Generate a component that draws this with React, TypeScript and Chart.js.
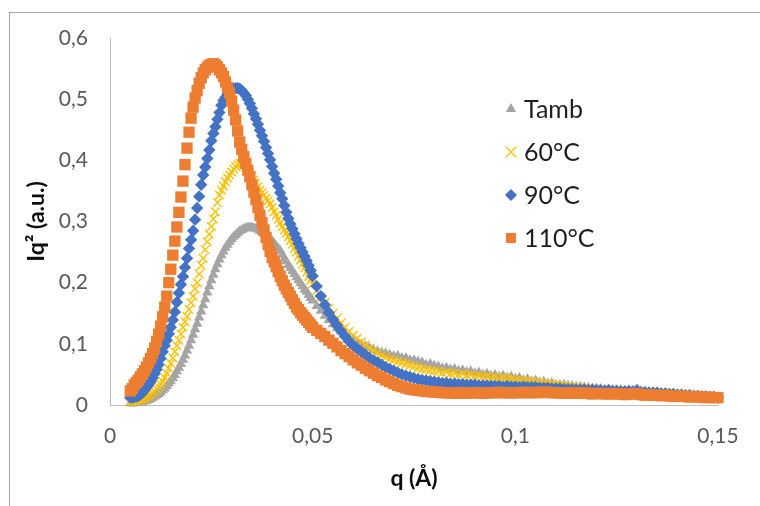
import React, { useEffect, useRef } from 'react';
import { Chart, registerables } from 'chart.js';

Chart.register(...registerables);

// q (Å) sampling positions
const qValues = [
  0.005, 0.0055, 0.006, 0.0065, 0.007, 0.0075, 0.008, 0.0085, 0.009, 0.0095,
  0.010, 0.0105, 0.011, 0.0115, 0.012, 0.0125, 0.013, 0.0135, 0.014, 0.0145,
  0.015, 0.0155, 0.016, 0.0165, 0.017, 0.0175, 0.018, 0.0185, 0.019, 0.0195,
  0.020, 0.0205, 0.021, 0.0215, 0.022, 0.0225, 0.023, 0.0235, 0.024, 0.0245,
  0.025, 0.0255, 0.026, 0.0265, 0.027, 0.0275, 0.028, 0.0285, 0.029, 0.0295,
  0.030, 0.0305, 0.031, 0.0315, 0.032, 0.0325, 0.033, 0.0335, 0.034, 0.0345,
  0.035, 0.0355, 0.036, 0.0365, 0.037, 0.0375, 0.038, 0.0385, 0.039, 0.0395,
  0.040, 0.0405, 0.041, 0.0415, 0.042, 0.0425, 0.043, 0.0435, 0.044, 0.0445,
  0.045, 0.0455, 0.046, 0.0465, 0.047, 0.0475, 0.048, 0.0485, 0.049, 0.0495,
  0.050,
  0.051, 0.052, 0.053, 0.054, 0.055, 0.056, 0.057, 0.058, 0.059, 0.060,
  0.061, 0.062, 0.063, 0.064, 0.065, 0.066, 0.067, 0.068, 0.069, 0.070,
  0.071, 0.072, 0.073, 0.074, 0.075, 0.076, 0.077, 0.078, 0.079, 0.080,
  0.081, 0.082, 0.083, 0.084, 0.085, 0.086, 0.087, 0.088, 0.089, 0.090,
  0.091, 0.092, 0.093, 0.094, 0.095, 0.096, 0.097, 0.098, 0.099, 0.100,
  0.101, 0.102, 0.103, 0.104, 0.105, 0.106, 0.107, 0.108, 0.109, 0.110,
  0.111, 0.112, 0.113, 0.114, 0.115, 0.116, 0.117, 0.118, 0.119, 0.120,
  0.121, 0.122, 0.123, 0.124, 0.125, 0.126, 0.127, 0.128, 0.129, 0.130,
  0.131, 0.132, 0.133, 0.134, 0.135, 0.136, 0.137, 0.138, 0.139, 0.140,
  0.141, 0.142, 0.143, 0.144, 0.145, 0.146, 0.147, 0.148, 0.149, 0.150,
];

const tambValues = [
  0.003, 0.003, 0.003, 0.004, 0.004, 0.004, 0.005, 0.006, 0.007, 0.008,
  0.010, 0.012, 0.014, 0.016, 0.018, 0.021, 0.024, 0.027, 0.031, 0.035,
  0.039, 0.044, 0.049, 0.055, 0.061, 0.067, 0.074, 0.081, 0.089, 0.097,
  0.106, 0.115, 0.124, 0.133, 0.143, 0.153, 0.163, 0.173, 0.184, 0.194,
  0.204, 0.213, 0.222, 0.230, 0.238, 0.245, 0.251, 0.257, 0.262, 0.267,
  0.271, 0.275, 0.278, 0.281, 0.284, 0.286, 0.288, 0.289, 0.290, 0.290,
  0.290, 0.289, 0.288, 0.287, 0.285, 0.283, 0.280, 0.277, 0.274, 0.271,
  0.268, 0.264, 0.260, 0.256, 0.252, 0.246, 0.240, 0.235, 0.229, 0.224,
  0.219, 0.214, 0.209, 0.204, 0.199, 0.194, 0.189, 0.185, 0.180, 0.175,
  0.171,
  0.162, 0.154, 0.146, 0.139, 0.132, 0.126, 0.120, 0.115, 0.110, 0.106,
  0.102, 0.099, 0.096, 0.093, 0.090, 0.088, 0.086, 0.084, 0.082, 0.080,
  0.080, 0.077, 0.077, 0.073, 0.073, 0.071, 0.070, 0.066, 0.067, 0.064,
  0.063, 0.060, 0.061, 0.058, 0.059, 0.056, 0.057, 0.054, 0.055, 0.052,
  0.053, 0.050, 0.051, 0.048, 0.049, 0.046, 0.048, 0.045, 0.046, 0.043,
  0.044, 0.041, 0.042, 0.039, 0.040, 0.037, 0.038, 0.035, 0.036, 0.033,
  0.033, 0.033, 0.032, 0.031, 0.030, 0.030, 0.029, 0.028, 0.027, 0.027,
  0.026, 0.025, 0.025, 0.024, 0.024, 0.024, 0.023, 0.023, 0.022, 0.022,
  0.022, 0.021, 0.021, 0.020, 0.020, 0.019, 0.019, 0.018, 0.018, 0.017,
  0.017, 0.016, 0.016, 0.015, 0.015, 0.014, 0.014, 0.013, 0.013, 0.012,
];

const t60Values = [
  0.006, 0.006, 0.007, 0.007, 0.008, 0.009, 0.010, 0.011, 0.013, 0.015,
  0.017, 0.020, 0.023, 0.026, 0.030, 0.034, 0.039, 0.045, 0.052, 0.060,
  0.068, 0.077, 0.087, 0.097, 0.106, 0.116, 0.127, 0.136, 0.145, 0.156,
  0.167, 0.178, 0.190, 0.200, 0.214, 0.228, 0.240, 0.254, 0.267, 0.279,
  0.292, 0.304, 0.316, 0.331, 0.343, 0.351, 0.358, 0.365, 0.371, 0.376,
  0.381, 0.386, 0.390, 0.393, 0.395, 0.395, 0.393, 0.389, 0.384, 0.379,
  0.374, 0.368, 0.363, 0.357, 0.351, 0.347, 0.343, 0.338, 0.334, 0.329,
  0.323, 0.316, 0.310, 0.304, 0.297, 0.292, 0.286, 0.281, 0.275, 0.269,
  0.263, 0.256, 0.250, 0.243, 0.237, 0.230, 0.224, 0.217, 0.210, 0.204,
  0.198,
  0.187, 0.176, 0.167, 0.158, 0.150, 0.142, 0.134, 0.127, 0.120, 0.114,
  0.109, 0.103, 0.098, 0.093, 0.089, 0.085, 0.081, 0.078, 0.075, 0.073,
  0.071, 0.069, 0.067, 0.065, 0.063, 0.061, 0.059, 0.058, 0.056, 0.055,
  0.055, 0.052, 0.054, 0.051, 0.052, 0.049, 0.051, 0.048, 0.050, 0.047,
  0.048, 0.046, 0.047, 0.044, 0.046, 0.043, 0.045, 0.042, 0.043, 0.040,
  0.040, 0.039, 0.039, 0.038, 0.037, 0.036, 0.035, 0.034, 0.033, 0.033,
  0.032, 0.031, 0.030, 0.030, 0.029, 0.028, 0.028, 0.027, 0.026, 0.026,
  0.025, 0.025, 0.024, 0.025, 0.024, 0.024, 0.023, 0.024, 0.023, 0.023,
  0.022, 0.022, 0.021, 0.021, 0.020, 0.020, 0.019, 0.019, 0.018, 0.018,
  0.017, 0.017, 0.016, 0.016, 0.015, 0.015, 0.014, 0.014, 0.013, 0.013,
];

const t90Values = [
  0.012, 0.012, 0.013, 0.014, 0.015, 0.017, 0.020, 0.024, 0.028, 0.033,
  0.038, 0.044, 0.051, 0.058, 0.066, 0.076, 0.087, 0.097, 0.106, 0.116,
  0.127, 0.139, 0.152, 0.168, 0.183, 0.197, 0.210, 0.225, 0.240, 0.256,
  0.270, 0.285, 0.303, 0.322, 0.341, 0.360, 0.376, 0.389, 0.403, 0.417,
  0.432, 0.444, 0.455, 0.467, 0.478, 0.490, 0.498, 0.503, 0.508, 0.512,
  0.515, 0.517, 0.518, 0.518, 0.517, 0.514, 0.510, 0.506, 0.500, 0.493,
  0.485, 0.476, 0.468, 0.459, 0.449, 0.440, 0.431, 0.421, 0.411, 0.401,
  0.390, 0.379, 0.369, 0.358, 0.347, 0.337, 0.326, 0.315, 0.305, 0.296,
  0.288, 0.280, 0.272, 0.264, 0.257, 0.250, 0.243, 0.236, 0.228, 0.220,
  0.211,
  0.194, 0.178, 0.164, 0.151, 0.140, 0.130, 0.121, 0.112, 0.104, 0.097,
  0.092, 0.087, 0.082, 0.077, 0.073, 0.070, 0.066, 0.062, 0.059, 0.056,
  0.053, 0.050, 0.048, 0.046, 0.044, 0.042, 0.041, 0.040, 0.039, 0.038,
  0.037, 0.036, 0.036, 0.035, 0.035, 0.034, 0.034, 0.033, 0.033, 0.033,
  0.032, 0.032, 0.032, 0.031, 0.031, 0.031, 0.030, 0.031, 0.030, 0.030,
  0.029, 0.030, 0.029, 0.029, 0.029, 0.028, 0.028, 0.028, 0.027, 0.027,
  0.027, 0.026, 0.026, 0.026, 0.025, 0.025, 0.025, 0.024, 0.025, 0.024,
  0.024, 0.023, 0.024, 0.023, 0.023, 0.022, 0.022, 0.023, 0.022, 0.024,
  0.021, 0.021, 0.020, 0.020, 0.020, 0.019, 0.019, 0.018, 0.018, 0.017,
  0.017, 0.016, 0.016, 0.015, 0.015, 0.014, 0.014, 0.013, 0.013, 0.012,
];

const t110Values = [
  0.023, 0.027, 0.033, 0.037, 0.041, 0.046, 0.051, 0.056, 0.062, 0.069,
  0.076, 0.084, 0.093, 0.104, 0.116, 0.129, 0.144, 0.160, 0.178, 0.200,
  0.222, 0.245, 0.268, 0.291, 0.315, 0.340, 0.366, 0.393, 0.420, 0.446,
  0.469, 0.487, 0.502, 0.514, 0.526, 0.535, 0.543, 0.548, 0.552, 0.555,
  0.557, 0.558, 0.556, 0.553, 0.548, 0.543, 0.537, 0.528, 0.519, 0.510,
  0.497, 0.482, 0.466, 0.448, 0.430, 0.418, 0.406, 0.395, 0.384, 0.373,
  0.360, 0.348, 0.336, 0.323, 0.310, 0.298, 0.286, 0.274, 0.262, 0.251,
  0.241, 0.234, 0.226, 0.218, 0.210, 0.203, 0.196, 0.190, 0.184, 0.178,
  0.172, 0.166, 0.160, 0.156, 0.151, 0.147, 0.143, 0.139, 0.135, 0.131,
  0.127,
  0.122, 0.117, 0.112, 0.106, 0.101, 0.095, 0.089, 0.084, 0.079, 0.074,
  0.069, 0.065, 0.060, 0.056, 0.052, 0.048, 0.045, 0.041, 0.038, 0.035,
  0.032, 0.030, 0.028, 0.026, 0.025, 0.024, 0.023, 0.022, 0.022, 0.021,
  0.021, 0.020, 0.020, 0.020, 0.019, 0.020, 0.020, 0.019, 0.020, 0.020,
  0.020, 0.019, 0.020, 0.020, 0.020, 0.021, 0.020, 0.020, 0.020, 0.020,
  0.020, 0.021, 0.020, 0.020, 0.021, 0.020, 0.021, 0.021, 0.020, 0.020,
  0.020, 0.019, 0.020, 0.020, 0.019, 0.019, 0.020, 0.019, 0.018, 0.019,
  0.019, 0.018, 0.018, 0.019, 0.018, 0.018, 0.017, 0.018, 0.018, 0.019,
  0.017, 0.016, 0.017, 0.016, 0.016, 0.015, 0.016, 0.015, 0.014, 0.015,
  0.014, 0.014, 0.013, 0.014, 0.013, 0.013, 0.012, 0.013, 0.012, 0.012,
];

const seriesLabels = ['Tamb', '60°C', '90°C', '110°C'];
const seriesColors = ['#A5A5A5', '#FFC000', '#4472C4', '#ED7D31'];
const xTitle = 'q (Å)';
const yTitle = 'Iq² (a.u.)';

const fmt = (v: number | string) => {
  const n = Math.round(Number(v) * 1000) / 1000;
  return n === 0 ? '0' : String(n).replace('.', ',');
};

const toPoints = (ys: number[]) => qValues.map((x, i) => ({ x, y: ys[i] }));

function drawMarker(ctx: CanvasRenderingContext2D, style: string, x: number, y: number, r: number, color: string) {
  ctx.save();
  ctx.fillStyle = color;
  ctx.strokeStyle = color;
  ctx.beginPath();
  if (style === 'triangle') {
    ctx.moveTo(x, y - r);
    ctx.lineTo(x + r * 0.866, y + r * 0.5);
    ctx.lineTo(x - r * 0.866, y + r * 0.5);
    ctx.closePath();
    ctx.fill();
  } else if (style === 'crossRot') {
    const d = r * 0.75;
    ctx.lineWidth = 1.4;
    ctx.moveTo(x - d, y - d);
    ctx.lineTo(x + d, y + d);
    ctx.moveTo(x + d, y - d);
    ctx.lineTo(x - d, y + d);
    ctx.stroke();
  } else if (style === 'rectRot') {
    ctx.moveTo(x, y - r);
    ctx.lineTo(x + r, y);
    ctx.lineTo(x, y + r);
    ctx.lineTo(x - r, y);
    ctx.closePath();
    ctx.fill();
  } else {
    ctx.rect(x - r, y - r, 2 * r, 2 * r);
    ctx.fill();
  }
  ctx.restore();
}

const legendPlugin = {
  id: 'insideLegend',
  afterDraw(chart: any) {
    const { ctx, chartArea } = chart;
    const mx = chartArea.left + 401;
    const tx = chartArea.left + 414;
    const y0 = chartArea.top + 71;
    const step = 43;
    const styles = ['triangle', 'crossRot', 'rectRot', 'rect'];
    const sizes = [6, 7, 6, 5];
    ctx.save();
    ctx.font = '25px Lato';
    ctx.textBaseline = 'middle';
    ctx.textAlign = 'left';
    chart.data.datasets.forEach((ds: any, i: number) => {
      const y = y0 + i * step;
      drawMarker(ctx, styles[i], mx, y, sizes[i], seriesColors[i]);
      ctx.fillStyle = '#1f1f1f';
      ctx.fillText(ds.label, tx, y + 1);
    });
    ctx.restore();
  },
};

export default function App() {
  const canvasRef = useRef<HTMLCanvasElement | null>(null);

  useEffect(() => {
    let chart: Chart | null = null;
    let cancelled = false;
    const make = () => {
      if (cancelled || !canvasRef.current) return;
      const tickFont = { family: 'Lato', size: 21 };
      const titleFont = { family: 'Lato', size: 23, weight: 'bold' as const };
      chart = new Chart(canvasRef.current, {
        type: 'scatter',
        data: {
          datasets: [
            {
              label: seriesLabels[0],
              data: toPoints(tambValues),
              pointStyle: 'triangle',
              pointRadius: 6,
              backgroundColor: seriesColors[0],
              borderColor: seriesColors[0],
              borderWidth: 0,
              order: 3,
              clip: false,
            },
            {
              label: seriesLabels[1],
              data: toPoints(t60Values),
              pointStyle: 'crossRot',
              pointRadius: 6,
              backgroundColor: seriesColors[1],
              borderColor: seriesColors[1],
              borderWidth: 1.4,
              order: 2,
              clip: false,
            },
            {
              label: seriesLabels[2],
              data: toPoints(t90Values),
              pointStyle: 'rectRot',
              pointRadius: 6.2,
              backgroundColor: seriesColors[2],
              borderColor: seriesColors[2],
              borderWidth: 0,
              order: 1,
              clip: false,
            },
            {
              label: seriesLabels[3],
              data: toPoints(t110Values),
              pointStyle: 'rect',
              pointRadius: 8,
              backgroundColor: seriesColors[3],
              borderColor: seriesColors[3],
              borderWidth: 0,
              order: 0,
              clip: false,
            },
          ],
        },
        options: {
          responsive: false,
          animation: false,
          devicePixelRatio: 1,
          layout: { padding: { left: 0, right: 42, top: 38, bottom: 0 } },
          plugins: {
            legend: { display: false },
            tooltip: { enabled: false },
          },
          scales: {
            x: {
              type: 'linear',
              position: 'bottom',
              min: 0,
              max: 0.15,
              grid: { display: false, drawTicks: false },
              border: { display: true, color: '#bfbfbf', width: 1 },
              ticks: {
                stepSize: 0.05,
                padding: 19,
                color: '#595959',
                font: tickFont,
                maxRotation: 0,
                callback: (v: any) => fmt(v),
              },
              title: {
                display: true,
                text: xTitle,
                color: '#0d0d0d',
                font: titleFont,
                padding: { top: 0, bottom: 14 },
              },
              afterFit: (s: any) => {
                s.height = 101;
              },
            },
            y: {
              type: 'linear',
              min: 0,
              max: 0.6,
              grid: { display: false, drawTicks: false },
              border: { display: true, color: '#bfbfbf', width: 1 },
              ticks: {
                stepSize: 0.1,
                padding: 22,
                color: '#595959',
                font: tickFont,
                callback: (v: any) => fmt(v),
              },
              title: {
                display: true,
                text: yTitle,
                color: '#0d0d0d',
                font: titleFont,
                padding: { top: 23, bottom: 0 },
              },
              afterFit: (s: any) => {
                s.width = 110;
              },
            },
          },
        },
        plugins: [legendPlugin],
      } as any);
    };
    const fontsReady = (document as any).fonts
      ? Promise.all([
          (document as any).fonts.load('21px Lato'),
          (document as any).fonts.load('bold 23px Lato'),
        ]).catch(() => null)
      : Promise.resolve(null);
    fontsReady.then(make);
    return () => {
      cancelled = true;
      if (chart) chart.destroy();
    };
  }, []);

  return (
    <div style={{ position: 'absolute', left: 0, top: 0, width: 760, height: 506, overflow: 'hidden', background: '#fff' }}>
      <div
        style={{
          position: 'absolute',
          left: 9,
          top: 12,
          width: 750,
          height: 493,
          borderLeft: '1px solid #a6a6a6',
          borderTop: '1px solid #a6a6a6',
        }}
      />
      <canvas ref={canvasRef} width={760} height={506} style={{ position: 'absolute', left: 0, top: 0 }} />
    </div>
  );
}
